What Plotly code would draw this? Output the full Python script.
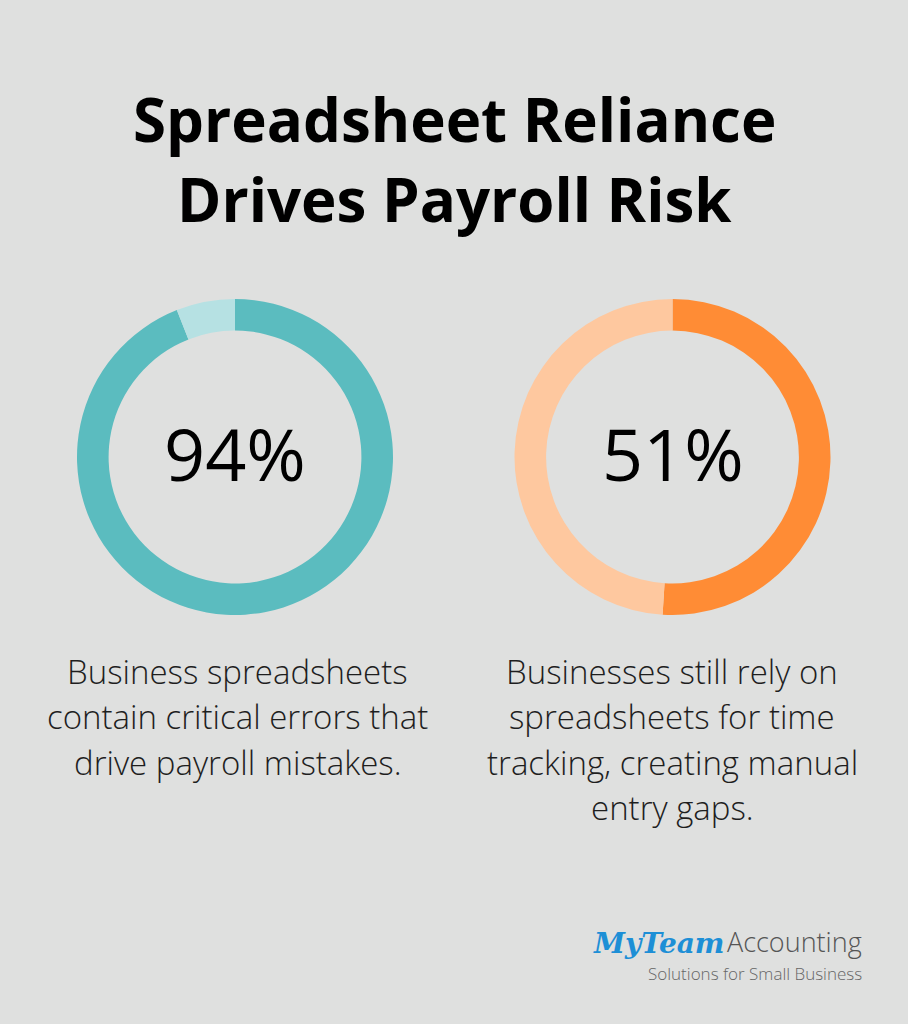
import plotly.graph_objects as go

# Data
labels_left = ["Spreadsheets with errors", "Other"]
values_left = [94, 6]
labels_right = ["Rely on spreadsheets", "Other"]
values_right = [51, 49]
center_texts = ["94%", "51%"]
descriptions = [
    ["Business spreadsheets", "contain critical errors that", "drive payroll mistakes."],
    ["Businesses still rely on", "spreadsheets for time", "tracking, creating manual", "entry gaps."],
]
title_lines = ["Spreadsheet Reliance", "Drives Payroll Risk"]

W, H = 908, 1024
BG = "#dfe0df"
FONT = "Open Sans"

def dom(x0, x1, y0, y1):
    return dict(x=[x0 / W, x1 / W], y=[1 - y1 / H, 1 - y0 / H])

fig = go.Figure()
fig.add_trace(go.Pie(
    labels=labels_left, values=values_left, hole=0.80, sort=False,
    direction="clockwise", rotation=0, textinfo="none", hoverinfo="label+value",
    marker=dict(colors=["#5bbcbf", "#b6e1e3"], line=dict(width=0)),
    domain=dom(77, 393, 299, 615), showlegend=False,
))
fig.add_trace(go.Pie(
    labels=labels_right, values=values_right, hole=0.80, sort=False,
    direction="clockwise", rotation=0, textinfo="none", hoverinfo="label+value",
    marker=dict(colors=["#ff8c35", "#fec89f"], line=dict(width=0)),
    domain=dom(514, 831, 299, 615), showlegend=False,
))

ann = []
for i, t in enumerate(title_lines):
    ann.append(dict(x=454 / W, y=1 - (119 + 80 * i) / H, xref="paper", yref="paper", text=t,
                    showarrow=False, xanchor="center", yanchor="middle",
                    font=dict(family=FONT, size=60, color="#000000", weight="bold")))
for cx, t in zip([235, 673], center_texts):
    ann.append(dict(x=cx / W, y=1 - 453 / H, xref="paper", yref="paper", text=t,
                    showarrow=False, xanchor="center", yanchor="middle",
                    font=dict(family=FONT, size=72, color="#000000")))
for cx, lines in zip([238, 672], descriptions):
    for j, t in enumerate(lines):
        ann.append(dict(x=cx / W, y=1 - (671 + 45.5 * j) / H, xref="paper", yref="paper", text=t,
                        showarrow=False, xanchor="center", yanchor="middle",
                        font=dict(family=FONT, size=33, color="#1e1e1e", weight=300)))
# Logo
ann.append(dict(x=726 / W, y=1 - 962 / H, xref="paper", yref="paper",
                text="<i><b>MyTeam</b></i>", showarrow=False, xanchor="right", yanchor="bottom",
                font=dict(family="DejaVu Serif", size=28, color="#1d8fd6")))
ann.append(dict(x=864 / W, y=1 - 962 / H, xref="paper", yref="paper",
                text="Accounting", showarrow=False, xanchor="right", yanchor="bottom",
                font=dict(family=FONT, size=27, color="#555555", weight=300)))
ann.append(dict(x=864 / W, y=1 - 960 / H, xref="paper", yref="paper",
                text="Solutions for Small Business", showarrow=False, xanchor="right", yanchor="top",
                font=dict(family=FONT, size=17, color="#666666", weight=300)))

fig.update_layout(
    width=W, height=H, margin=dict(l=0, r=0, t=0, b=0),
    paper_bgcolor=BG, plot_bgcolor=BG, annotations=ann, showlegend=False,
)
fig.write_html("out.html")
